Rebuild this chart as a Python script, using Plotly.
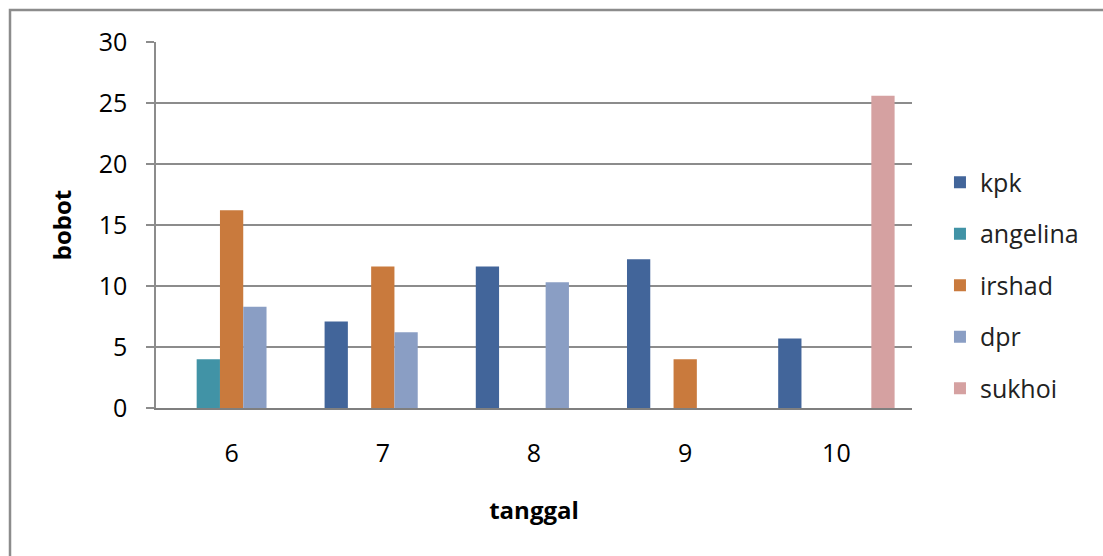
import plotly.graph_objects as go

categories = ["6", "7", "8", "9", "10"]
series_names = ["kpk", "angelina", "irshad", "dpr", "sukhoi"]
kpk = [0, 7.1, 11.6, 12.2, 5.7]
angelina = [4.0, 0, 0, 0, 0]
irshad = [16.2, 11.6, 0, 4.0, 0]
dpr = [8.3, 6.2, 10.3, 0, 0]
sukhoi = [0, 0, 0, 0, 25.6]
y_ticks = [0, 5, 10, 15, 20, 25, 30]

colors = ["#42659a", "#4193a6", "#c97a3d", "#8a9ec4", "#d5a1a1"]
values = [kpk, angelina, irshad, dpr, sukhoi]

W, H = 1103, 556
L, R, T, B = 156, 191, 42, 148
pw, ph = W - L - R, H - T - B

fig = go.Figure()
for name, vals, col in zip(series_names, values, colors):
    fig.add_trace(go.Bar(x=categories, y=vals, name=name, marker_color=col,
                         marker_line_width=0, legendgroup=name))

font_family = "Open Sans"
fig.update_layout(
    width=W, height=H,
    margin=dict(l=L, r=R, t=T, b=B),
    paper_bgcolor="white", plot_bgcolor="white",
    barmode="group", bargap=0.23, bargroupgap=0,
    font=dict(family=font_family, size=25, color="#000000"),
    legend=dict(x=1.037, xanchor="left", y=0.335, yanchor="middle",
                font=dict(size=25, color="#222222"), tracegroupgap=16,
                bgcolor="rgba(0,0,0,0)"),
    xaxis=dict(type="category", showgrid=False, showline=True, linecolor="#7f7f7f",
               linewidth=2, ticks="", ticklabelstandoff=22,
               title=dict(text="<b>tanggal</b>", standoff=34, font=dict(size=24))),
    yaxis=dict(range=[0, 30], tickvals=y_ticks, showgrid=True, gridcolor="#8c8c8c",
               gridwidth=1.5, showline=True, linecolor="#8c8c8c", linewidth=1.5,
               ticks="outside", ticklen=8, tickcolor="#8c8c8c", tickwidth=1.5,
               zeroline=False, ticklabelstandoff=14,
               title=dict(text="<b>bobot</b>", standoff=20, font=dict(size=24))),
)

# chart border
x0 = (10 - L) / pw
x1 = (W + 5 - L) / pw
y1 = (H - B - 10) / ph
y0 = (H - B - (H + 5)) / ph
fig.add_shape(type="rect", xref="paper", yref="paper", x0=x0, x1=x1, y0=y0, y1=y1,
              line=dict(color="#8c8c8c", width=2.5), layer="below")

fig.write_html("out.html")
